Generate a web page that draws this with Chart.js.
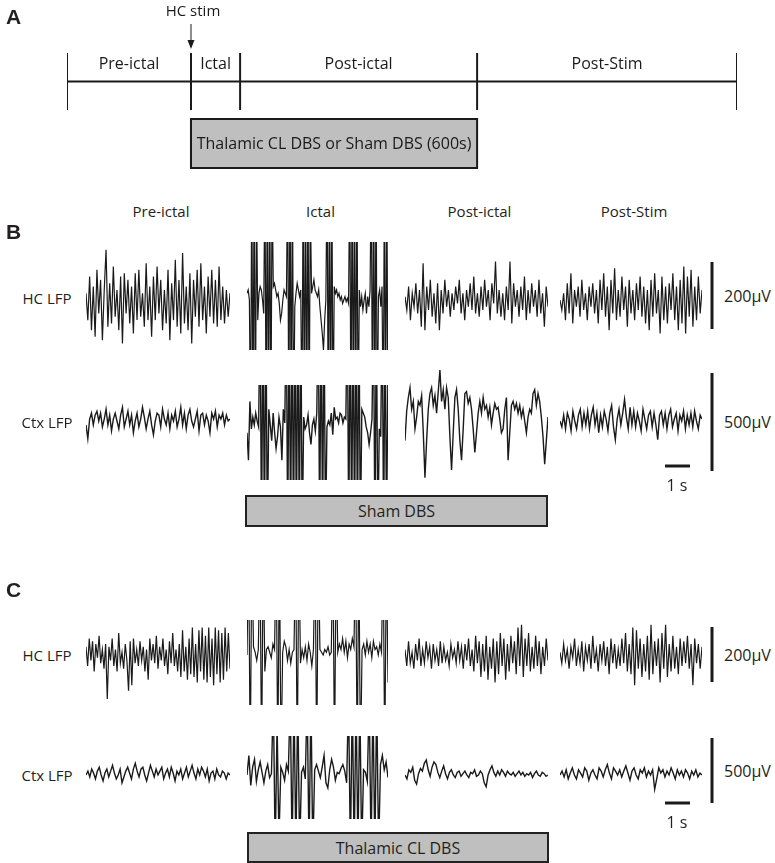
<!DOCTYPE html>
<html>
<head>
<meta charset="utf-8">
<script src="https://cdn.jsdelivr.net/npm/chart.js@4.4.0/dist/chart.umd.min.js"></script>
<style>
body{margin:0;background:#fff;}
#fig{position:relative;width:775px;height:863px;overflow:hidden;font-family:"Open Sans",sans-serif;color:#231f20;}
#fig canvas{position:absolute;}
.lbl{position:absolute;font-size:15px;white-space:nowrap;transform:translate(-50%,-50%);}
.lbl.left{transform:translate(0,-50%);}
.panel{position:absolute;font:bold 21px "Liberation Sans",Arial,sans-serif;transform:translate(0,-50%);}
.box{position:absolute;background:#bfbfbf;border:2px solid #222;box-sizing:border-box;display:flex;align-items:center;justify-content:center;font-size:16px;}
</style>
</head>
<body>
<div id="fig"></div>
<script>
// ---- panel A: schematic timeline (seconds relative to HC stim) ----
var phaseNames = ['Pre-ictal', 'Ictal', 'Post-ictal', 'Post-Stim'];
var phaseEdges = [-260, 0, 103, 600, 1145];
var dbsSpan = [0, 600];

// ---- LFP traces, µV, one row per recording ----
var segSeconds = 5.7;

var preB_HC = [20,-60,70,-90,40,-110,90,-40,60,-120,30,150,-80,50,-70,100,-50,30,-90,70,-130,80,-40,60,-70,40,-100,80,-60,90,-50,20,-80,110,-60,40,-110,70,-60,100,-40,60,-90,30,-70,90,-120,50,-60,120,-80,60,-100,140,-70,40,-90,80,-130,60,-50,90,-80,110,-60,40,-100,70,-50,90,-70,60,-80,100,-60,40,-70,30,-50,20];
var ictB_HC = [20,30,0,-400,400,-400,400,-400,300,-60,20,40,30,0,-40,400,-400,400,-400,400,-400,350,40,50,30,10,20,-10,-60,-40,0,30,20,10,400,-400,400,-400,400,-400,-20,20,50,30,10,30,-400,400,-400,400,-400,400,-400,300,20,40,60,30,20,10,30,-20,-60,-100,-150,-60,0,400,-400,400,-400,400,-400,40,20,30,10,20,0,10,-10,0,10,-5,5,-10,400,-400,400,-400,400,-400,400,-400,30,-20,10,-30,0,20,-40,10,-20,30,400,-400,400,-400,400,-400,10,30,-20,40,-400,400,-400,400,-400];
var postB_HC = [10,-30,40,-60,20,-20,50,-40,30,-80,110,-90,40,-30,60,-50,20,-70,50,-90,30,-40,60,-20,30,-50,20,-30,40,-10,60,-40,20,-60,30,-20,50,-30,70,-40,20,-50,40,-30,60,-20,30,-60,50,-10,115,-40,30,-50,20,-60,40,-30,115,-70,50,-20,30,-50,40,-30,70,-60,30,-40,50,-20,30,-50,60,-40,20,-80,40,-20];
var stimB_HC = [0,-30,20,-60,50,-40,80,-70,30,-20,40,-50,60,-30,20,-60,40,-20,50,-40,30,-70,60,-30,80,-50,40,-90,60,-40,95,-60,30,-50,70,-30,40,-80,60,-40,30,-60,50,-30,70,-50,40,-70,30,-90,60,-50,80,-40,30,-100,70,-60,40,-70,50,-30,80,-60,40,-90,60,-70,100,-100,70,-50,90,-80,40,-60,70,-40,30];

var preB_Ctx = [-20,-90,10,40,-20,30,50,0,40,-30,10,60,-20,30,-50,10,40,0,-40,30,70,-30,10,50,-20,30,-60,0,40,-30,10,70,20,-40,10,50,-20,-70,0,40,30,-30,60,10,-20,40,-40,30,0,50,-30,10,70,-20,40,-40,30,60,0,-30,10,50,-50,30,40,-20,30,0,-60,40,10,50,-30,30,10,40,-20,30,0,10];
var ictB_Ctx = [-60,-200,100,-40,20,-20,40,0,-30,600,-600,600,-600,600,-600,60,-20,-100,40,-60,-140,-80,20,-30,-200,60,-10,600,-600,600,-600,600,-600,600,-600,600,-600,600,-600,20,-40,-20,30,-60,-120,-20,10,-50,40,600,-600,600,-600,600,-600,-30,0,-20,40,-70,70,10,20,-10,40,30,-10,20,10,600,-600,600,-600,600,-600,600,-600,600,-600,60,40,20,-30,-60,-120,-60,10,600,-600,600,-600,-40,-80,600,-600,600,-600,300];
var postB_Ctx = [-100,50,120,170,60,100,-40,20,100,80,130,-60,-290,-100,60,140,170,80,130,40,150,260,100,160,60,170,120,-80,-250,-60,120,160,60,-100,-200,-40,140,150,90,120,60,-40,-160,-60,40,100,40,120,60,80,20,70,-20,40,90,60,70,10,-60,-40,60,120,-200,-60,80,100,60,90,40,80,20,60,0,-60,20,60,40,140,160,80,140,100,20,-80,-220,-100,20];
var stimB_Ctx = [0,-30,30,-40,40,10,-50,50,0,-40,30,60,-30,40,-20,50,-40,30,70,-20,40,-60,30,-30,50,10,-50,40,80,-30,-95,10,60,-20,40,110,20,-40,70,-20,50,-30,40,0,-50,60,10,-40,30,50,-30,40,-20,-95,30,50,-20,40,-40,30,60,-30,10,40,-50,30,0,50,-40,30,-20,40,-30,50,0,-40,30,10];

var preC_HC = [30,-40,60,-20,50,-60,40,-10,70,-30,20,-50,40,-160,30,-20,60,-40,20,-60,80,-30,10,-50,40,-20,-130,50,-110,60,-30,20,-40,50,-20,30,-60,20,-90,60,-20,40,-30,70,-50,30,-20,60,-40,20,-70,50,-30,80,-40,20,-60,40,-80,90,-60,30,-90,60,-70,100,-80,40,-100,90,-60,100,-90,70,-100,100,-80,60,-110,100,-70,90,-100,80,-90,100,-60,80,-50];
var ictC_HC = [0,400,-400,400,30,10,-20,20,400,-400,400,-60,20,30,10,-10,40,20,400,-400,400,-400,10,50,30,-20,20,-30,10,20,400,-400,400,-30,20,-10,30,-20,40,10,-40,20,400,-400,400,20,10,0,20,10,30,0,10,400,-400,400,10,40,20,60,10,50,-10,40,20,60,30,400,-400,400,-400,20,40,0,50,10,40,-10,50,20,30,0,40,10,400,-400,400,-100];
var postC_HC = [20,-40,50,-30,10,-50,40,-20,60,-40,20,-30,50,-10,30,-50,40,-20,20,-40,50,-30,30,-20,10,-40,40,-10,20,-30,50,-20,30,-50,40,-20,60,-40,20,-60,70,-30,50,-80,40,-60,70,-90,30,-50,60,-100,50,-70,80,-40,60,-90,40,-60,70,-30,50,-70,100,-40,110,-80,60,-40,80,-60,30,-50,70,-40,50,-70,30,-40,60,-20];
var stimC_HC = [10,-30,40,-20,20,-50,30,-10,60,-40,20,-30,50,-60,30,-20,40,-50,70,-30,20,-60,40,-20,50,-40,30,-70,60,-30,40,-50,20,-40,60,-30,80,-60,40,-70,100,-110,90,-50,60,-80,40,-60,70,-90,110,-70,50,-40,60,-100,80,-50,110,-80,40,-60,70,-50,30,-70,60,-40,50,-30,70,-50,40,-110,60,-30,40,-50,30];

var preC_Ctx = [0,30,-15,45,15,-30,30,60,0,-45,15,45,-15,30,75,15,-30,0,45,-60,-15,30,60,15,-30,45,90,30,-15,45,60,0,-45,15,75,30,-15,45,0,30,60,-30,15,45,-15,60,15,-45,30,0,45,-30,15,60,-15,30,75,15,-30,45,0,60,30,-15,45,-45,15,30,-30,45,0,-15,30,15,-30,15,0];
var ictC_Ctx = [0,150,-80,60,120,-50,40,100,20,-60,30,80,-20,10,600,-600,400,-500,60,20,-40,80,30,600,-600,600,-600,600,-600,20,60,-30,600,-600,600,-600,40,80,30,-20,60,150,-60,-100,40,120,60,-40,20,10,50,80,30,-60,600,-600,600,-600,600,-600,600,-600,40,20,-50,600,-600,600,-600,600,-600,80,150,40,100,-20];
var postC_Ctx = [0,-30,40,20,60,-40,-70,10,50,30,90,115,40,-10,60,100,80,20,-20,30,70,10,-30,20,40,0,-20,20,30,-10,10,30,0,-20,20,10,40,-10,0,30,10,-60,-90,0,40,70,20,-10,30,0,40,20,-10,30,10,0,20,-10,10,30,0,20,-10,10,0,20,-20,10,30,0,-10,20,10,-10,0];
var stimC_Ctx = [0,30,-15,40,-30,15,55,0,-30,40,15,-15,55,30,-40,15,40,0,-30,55,30,-15,40,80,15,-30,55,30,0,40,-15,30,70,15,-40,30,55,0,-30,40,15,55,-15,30,0,40,-110,-30,55,15,40,-15,30,0,55,15,-30,40,0,30,-15,40,15,-30,30,0,40,-15,15,0];

// scale bars
var hcBarUV = 200, ctxBarUV = 500, timeBarS = 1;

// ---- layout (pixels) ----
var pxPerSec = 25;
var cols = [[86, 230], [247, 388], [405, 548], [560, 702]];
var rows = {
	bHC:  {zero: 300, ppu: 0.335, top: 244, bottom: 352, ictTop: 242, ictBottom: 350, bar: 262, lw: 1.2},
	bCtx: {zero: 421, ppu: 0.196, top: 362, bottom: 485, ictTop: 385, ictBottom: 480, bar: 373, lw: 1.4},
	cHC:  {zero: 655, ppu: 0.275, top: 612, bottom: 706, ictTop: 620, ictBottom: 705, bar: 627, lw: 1.2},
	cCtx: {zero: 775, ppu: 0.13,  top: 735, bottom: 822, ictTop: 736, ictBottom: 819, bar: 738, lw: 1.4}
};

var fig = document.getElementById('fig');
var ink = '#1a1a1a';

function addCanvas(left, top, w, h){
	var c = document.createElement('canvas');
	c.width = w; c.height = h;
	c.style.left = left + 'px'; c.style.top = top + 'px';
	c.style.width = w + 'px'; c.style.height = h + 'px';
	fig.appendChild(c);
	return c;
}

function addText(txt, x, y, cls, size){
	var d = document.createElement('div');
	d.className = cls || 'lbl';
	d.textContent = txt;
	d.style.left = x + 'px'; d.style.top = y + 'px';
	if(size) d.style.fontSize = size + 'px';
	fig.appendChild(d);
	return d;
}

function baseOptions(xmin, xmax, ymin, ymax){
	return {
		responsive: false, animation: false, events: [],
		layout: {padding: 0},
		plugins: {legend: {display: false}, tooltip: {enabled: false}},
		scales: {
			x: {type: 'linear', display: false, min: xmin, max: xmax},
			y: {type: 'linear', display: false, min: ymin, max: ymax}
		}
	};
}

function traceChart(values, col, row, ictal){
	var top = ictal ? row.ictTop : row.top;
	var bottom = ictal ? row.ictBottom : row.bottom;
	var c = addCanvas(col[0], top, col[1] - col[0], bottom - top);
	var yMax = (row.zero - top) / row.ppu;
	var yMin = -(bottom - row.zero) / row.ppu;
	var dt = segSeconds / (values.length - 1);
	var pts = [];
	for(var i = 0; i < values.length; i++){
		pts.push({x: i * dt, y: values[i]});
	}
	new Chart(c, {
		type: 'line',
		data: {datasets: [{data: pts, borderColor: ink, borderWidth: row.lw, pointRadius: 0, tension: 0, clip: 0}]},
		options: baseOptions(0, segSeconds, yMin, yMax)
	});
}

function vBar(row, uv){
	var h = Math.round(uv * row.ppu);
	var c = addCanvas(708, row.bar, 8, h);
	new Chart(c, {
		type: 'line',
		data: {datasets: [{data: [{x: 0, y: 0}, {x: 0, y: uv}], borderColor: ink, borderWidth: 3, pointRadius: 0}]},
		options: baseOptions(-1, 1, 0, uv)
	});
	addText(uv + 'µV', 724, row.bar + h / 2, 'lbl left', 16);
}

function hBar(top){
	var c = addCanvas(665, top - 3, timeBarS * pxPerSec, 6);
	new Chart(c, {
		type: 'line',
		data: {datasets: [{data: [{x: 0, y: 0}, {x: timeBarS, y: 0}], borderColor: ink, borderWidth: 3, pointRadius: 0}]},
		options: baseOptions(0, timeBarS, -1, 1)
	});
	addText(timeBarS + ' s', 677, top + 19, 'lbl', 16);
}

// ---- panel A ----
var timelinePlugin = {
	id: 'timelineLabels',
	afterDatasetsDraw: function(chart){
		var ctx = chart.ctx, xs = chart.scales.x;
		ctx.save();
		ctx.fillStyle = ink;
		ctx.font = '16px "Open Sans"';
		ctx.textAlign = 'center';
		ctx.textBaseline = 'middle';
		for(var i = 0; i < phaseNames.length; i++){
			var mid = (xs.getPixelForValue(phaseEdges[i]) + xs.getPixelForValue(phaseEdges[i + 1])) / 2;
			ctx.fillText(phaseNames[i], mid, 64);
		}
		// HC stim arrow
		var sx = xs.getPixelForValue(phaseEdges[1]);
		ctx.font = '15px "Open Sans"';
		ctx.fillText('HC stim', sx + 2, 12);
		ctx.strokeStyle = ink;
		ctx.lineWidth = 1;
		ctx.beginPath(); ctx.moveTo(sx, 24); ctx.lineTo(sx, 42); ctx.stroke();
		ctx.beginPath(); ctx.moveTo(sx - 3.5, 40); ctx.lineTo(sx + 3.5, 40); ctx.lineTo(sx, 49); ctx.closePath(); ctx.fill();
		// DBS box
		var b0 = xs.getPixelForValue(dbsSpan[0]), b1 = xs.getPixelForValue(dbsSpan[1]);
		ctx.fillStyle = '#bfbfbf';
		ctx.fillRect(b0, 119, b1 - b0, 49);
		ctx.lineWidth = 2;
		ctx.strokeRect(b0, 119, b1 - b0, 49);
		ctx.fillStyle = ink;
		ctx.font = '16px "Open Sans"';
		ctx.fillText('Thalamic CL DBS or Sham DBS (600s)', (b0 + b1) / 2, 144);
		ctx.restore();
	}
};

var aCanvas = addCanvas(0, 0, 775, 190);
var aSets = [{data: [{x: phaseEdges[0], y: 0}, {x: phaseEdges[phaseEdges.length - 1], y: 0}], borderColor: ink, borderWidth: 2, pointRadius: 0}];
phaseEdges.forEach(function(e){
	aSets.push({data: [{x: e, y: -1}, {x: e, y: 1}], borderColor: ink, borderWidth: 2, pointRadius: 0});
});
var aOpts = baseOptions(phaseEdges[0], phaseEdges[phaseEdges.length - 1], -1, 1);
aOpts.layout.padding = {left: 67, right: 38, top: 53, bottom: 80};
new Chart(aCanvas, {type: 'line', data: {datasets: aSets}, options: aOpts, plugins: [timelinePlugin]});

// ---- panels B and C ----
var bSets = [[preB_HC, ictB_HC, postB_HC, stimB_HC], [preB_Ctx, ictB_Ctx, postB_Ctx, stimB_Ctx]];
var cSets = [[preC_HC, ictC_HC, postC_HC, stimC_HC], [preC_Ctx, ictC_Ctx, postC_Ctx, stimC_Ctx]];
var rowOrder = [[rows.bHC, rows.bCtx], [rows.cHC, rows.cCtx]];
[bSets, cSets].forEach(function(panel, p){
	panel.forEach(function(series, r){
		series.forEach(function(vals, k){
			traceChart(vals, cols[k], rowOrder[p][r], k == 1);
		});
	});
});

vBar(rows.bHC, hcBarUV);
vBar(rows.bCtx, ctxBarUV);
vBar(rows.cHC, hcBarUV);
vBar(rows.cCtx, ctxBarUV);
hBar(466);
hBar(803);

addText('A', 6, 17, 'panel');
addText('B', 6, 232, 'panel');
addText('C', 6, 590, 'panel');
phaseNames.forEach(function(n, k){
	addText(n, (cols[k][0] + cols[k][1]) / 2 + 3, 211, 'lbl', 15);
});
addText('HC LFP', 47, rows.bHC.zero - 2, 'lbl', 15);
addText('Ctx LFP', 47, rows.bCtx.zero + 1, 'lbl', 15);
addText('HC LFP', 47, rows.cHC.zero, 'lbl', 15);
addText('Ctx LFP', 47, rows.cCtx.zero, 'lbl', 15);

function addBox(txt, left, top, w, h){
	var d = document.createElement('div');
	d.className = 'box';
	d.textContent = txt;
	d.style.left = left + 'px'; d.style.top = top + 'px';
	d.style.width = w + 'px'; d.style.height = h + 'px';
	fig.appendChild(d);
}
addBox('Sham DBS', 245, 495, 303, 32);
addBox('Thalamic CL DBS', 247, 832, 302, 31);
</script>
</body>
</html>
